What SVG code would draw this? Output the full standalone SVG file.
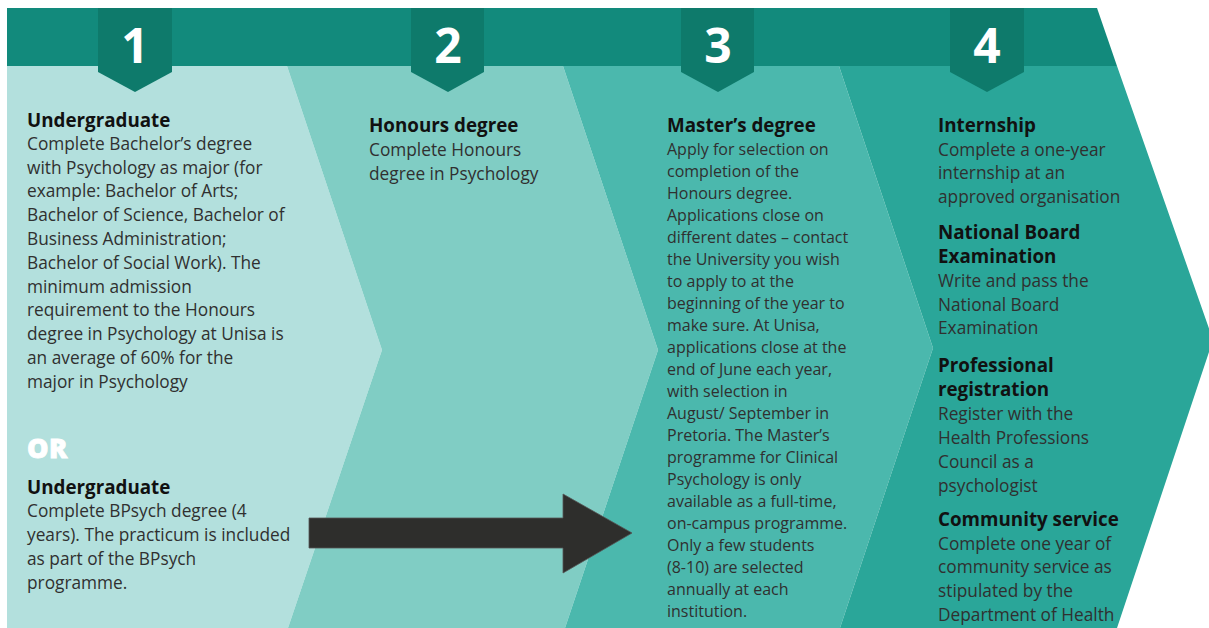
<svg xmlns="http://www.w3.org/2000/svg" width="1209" height="628" viewBox="0 0 1209 628">
<style>
.b{font-family:"Open Sans","Liberation Sans",sans-serif;font-size:17.3px;fill:#303030;}
.c{font-family:"Open Sans","Liberation Sans",sans-serif;font-size:16px;fill:#303030;}
.h{font-family:"Open Sans","Liberation Sans",sans-serif;font-size:18.8px;font-weight:bold;fill:#111;}
.n{font-family:"Open Sans","Liberation Sans",sans-serif;font-size:48px;font-weight:bold;fill:#fff;text-anchor:middle;}
.tab{fill:#0e7a6b;}
</style>
<rect width="1209" height="628" fill="#fff"/>
<polygon points="7,8 1097,8 1117,66 7,66" fill="#128a7c"/>
<g id="step1">
<polygon points="7,66 287,66 382,350 288,628 7,628" fill="#b3e0dd"/>
<polygon class="tab" points="98,8 172,8 172,72 135,92 98,72"/>
<text class="n" x="135" y="63">1</text>
<text class="h" x="27" y="127">Undergraduate</text>
<text class="b" x="27" y="150">Complete Bachelor’s degree</text>
<text class="b" x="27" y="174">with Psychology as major (for</text>
<text class="b" x="27" y="197">example: Bachelor of Arts;</text>
<text class="b" x="27" y="221">Bachelor of Science, Bachelor of</text>
<text class="b" x="27" y="245">Business Administration;</text>
<text class="b" x="27" y="269">Bachelor of Social Work). The</text>
<text class="b" x="27" y="293">minimum admission</text>
<text class="b" x="27" y="316">requirement to the Honours</text>
<text class="b" x="27" y="340">degree in Psychology at Unisa is</text>
<text class="b" x="27" y="364">an average of 60% for the</text>
<text class="b" x="27" y="388">major in Psychology</text>
<text x="27" y="458" style="font-family:'Open Sans','Liberation Sans',sans-serif;font-size:27px;font-weight:800;letter-spacing:0.5px;fill:#fff;stroke:#fff;stroke-width:0.8">OR</text>
<text class="h" x="27" y="494">Undergraduate</text>
<text class="b" x="27" y="517">Complete BPsych degree (4</text>
<text class="b" x="27" y="541">years). The practicum is included</text>
<text class="b" x="27" y="565">as part of the BPsych</text>
<text class="b" x="27" y="589">programme.</text>
</g>
<g id="step2">
<polygon points="287,66 563,66 658,350 565,628 288,628 382,350" fill="#80cdc4"/>
<polygon class="tab" points="411,8 484,8 484,72 448,92 411,72"/>
<text class="n" x="448" y="63">2</text>
<text class="h" x="369" y="132">Honours degree</text>
<text class="b" x="369" y="156">Complete Honours</text>
<text class="b" x="369" y="180">degree in Psychology</text>
</g>
<g id="step3">
<polygon points="563,66 839,66 933,348 840,628 565,628 658,350" fill="#4bb8ad"/>
<polygon class="tab" points="681,8 754,8 754,72 718,92 681,72"/>
<text class="n" x="718" y="63">3</text>
<text class="h" x="667" y="132">Master’s degree</text>
<text class="c" x="667" y="155">Apply for selection on</text>
<text class="c" x="667" y="177">completion of the</text>
<text class="c" x="667" y="199">Honours degree.</text>
<text class="c" x="667" y="221">Applications close on</text>
<text class="c" x="667" y="243">different dates – contact</text>
<text class="c" x="667" y="265">the University you wish</text>
<text class="c" x="667" y="287">to apply to at the</text>
<text class="c" x="667" y="309">beginning of the year to</text>
<text class="c" x="667" y="331">make sure. At Unisa,</text>
<text class="c" x="667" y="353">applications close at the</text>
<text class="c" x="667" y="375">end of June each year,</text>
<text class="c" x="667" y="397">with selection in</text>
<text class="c" x="667" y="419">August/ September in</text>
<text class="c" x="667" y="441">Pretoria. The Master’s</text>
<text class="c" x="667" y="463">programme for Clinical</text>
<text class="c" x="667" y="485">Psychology is only</text>
<text class="c" x="667" y="507">available as a full-time,</text>
<text class="c" x="667" y="529">on-campus programme.</text>
<text class="c" x="667" y="551">Only a few students</text>
<text class="c" x="667" y="573">(8-10) are selected</text>
<text class="c" x="667" y="595">annually at each</text>
<text class="c" x="667" y="617">institution.</text>
</g>
<g id="step4">
<polygon points="839,66 1117,66 1213,340 1117,628 840,628 933,348" fill="#2aa699"/>
<polygon class="tab" points="950,8 1024,8 1024,72 987,92 950,72"/>
<text class="n" x="987" y="63">4</text>
<text class="h" x="938" y="132">Internship</text>
<text class="b" x="938" y="156">Complete a one-year</text>
<text class="b" x="938" y="179">internship at an</text>
<text class="b" x="938" y="203">approved organisation</text>
<text class="h" x="938" y="239">National Board</text>
<text class="h" x="938" y="263">Examination</text>
<text class="b" x="938" y="287">Write and pass the</text>
<text class="b" x="938" y="311">National Board</text>
<text class="b" x="938" y="334">Examination</text>
<text class="h" x="938" y="372">Professional</text>
<text class="h" x="938" y="396">registration</text>
<text class="b" x="938" y="420">Register with the</text>
<text class="b" x="938" y="444">Health Professions</text>
<text class="b" x="938" y="468">Council as a</text>
<text class="b" x="938" y="492">psychologist</text>
<text class="h" x="938" y="526">Community service</text>
<text class="b" x="938" y="550">Complete one year of</text>
<text class="b" x="938" y="573">community service as</text>
<text class="b" x="938" y="597">stipulated by the</text>
<text class="b" x="938" y="621">Department of Health</text>
</g>
<g id="connectors">
<polygon points="309,518 563,518 563,494 632,533 563,573 563,548 309,548" fill="#2e2e2c" stroke="#555" stroke-width="0.8"/>
</g>
</svg>
